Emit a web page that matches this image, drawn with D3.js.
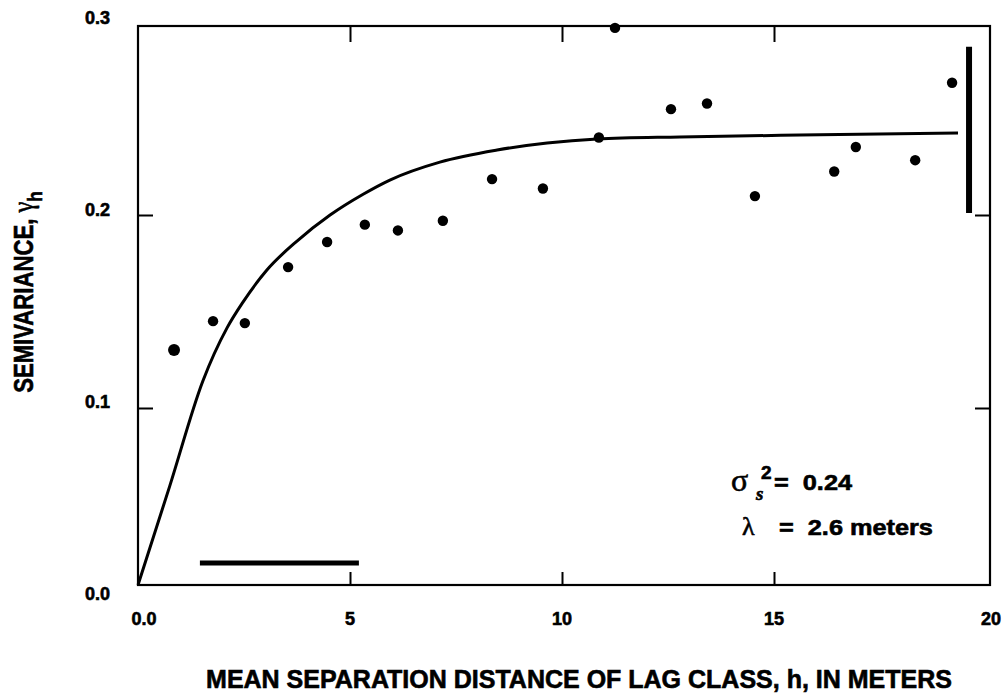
<!DOCTYPE html>
<html>
<head>
<meta charset="utf-8">
<script src="https://cdn.jsdelivr.net/npm/d3@7"></script>
<style>
  body { margin: 0; background: #fff; }
  text { font-family: "Liberation Sans", Arial, sans-serif; font-weight: bold; fill: #000;
         stroke: #000; stroke-width: 0.6px; white-space: pre; }
</style>
</head>
<body>
<div id="plot"></div>
<script>
var width  = 1004;
var height = 696;

// lag classes (meters) and experimental semivariance
var lagDistance  = [0.85, 1.77, 2.52, 3.54, 4.46, 5.35, 6.13, 7.19, 8.35, 9.55,
                    10.87, 11.25, 12.57, 13.42, 14.55, 16.42, 16.93, 18.33, 19.20];
var semivariance = [0.130, 0.145, 0.144, 0.173, 0.186, 0.195, 0.192, 0.197, 0.219, 0.214,
                    0.241, 0.299, 0.256, 0.259, 0.210, 0.223, 0.236, 0.229, 0.270];

// fitted model curve
var modelDistance     = [0, 0.75, 1.53, 2.10, 2.48, 3.04, 3.75, 4.53, 5.31, 5.94,
                         7.12, 8.47, 9.65, 10.83, 12.78, 15.61, 19.34];
var modelSemivariance = [0, 0.056, 0.114, 0.1415, 0.155, 0.1715, 0.1865, 0.200, 0.211, 0.2185,
                         0.228, 0.2344, 0.2381, 0.2402, 0.2413, 0.2423, 0.2434];

// range bar (horizontal) and sill bar (vertical)
var rangeBarH = [1.46, 5.21];
var rangeBarY = 0.0124;
var sillBarH  = 19.60;
var sillBarY  = [0.201, 0.289];

var xTickValues = [0, 5, 10, 15, 20];
var xTickLabels = ["0.0", "5", "10", "15", "20"];
var yTickValues = [0, 0.1, 0.2, 0.3];
var yTickLabels = ["0.0", "0.1", "0.2", "0.3"];

var frameLeft = 138, frameRight = 990, frameTop = 26, frameBottom = 585;

var x = d3.scaleLinear().domain([0, 20]).range([frameLeft, 986]);
// the printed axis is not evenly spaced, so the scale is piecewise
var y = d3.scaleLinear().domain([0, 0.1, 0.2, 0.3]).range([frameBottom, 408, 215, frameTop]);
// tick labels sit on an even spacing of their own
var yLabel = d3.scaleLinear().domain([0, 0.3]).range([600, 24]);

var svg = d3.select("#plot")
    .append("svg")
    .attr("width", width)
    .attr("height", height);

// inward ticks on all four sides
function ticks(axis, size, tx, ty, vals) {
    var g = svg.append("g")
        .attr("transform", "translate(" + tx + "," + ty + ")")
        .call(axis.tickValues(vals).tickSize(size).tickFormat(""));
    g.select(".domain").remove();
    g.selectAll("line").attr("stroke", "#000").attr("stroke-width", 2);
}
ticks(d3.axisBottom(x), -13, 0, frameBottom, [5, 10, 15]);
ticks(d3.axisTop(x), -16, 0, frameTop, [5, 10, 15]);
ticks(d3.axisLeft(y), -15, frameLeft, 0, [0.1, 0.2]);
ticks(d3.axisRight(y), -15, frameRight, 0, [0.1, 0.2]);

svg.append("rect")
    .attr("x", frameLeft)
    .attr("y", frameTop)
    .attr("width", frameRight - frameLeft)
    .attr("height", frameBottom - frameTop)
    .attr("fill", "none")
    .attr("stroke", "#000")
    .attr("stroke-width", 2.2);

// tick labels
svg.selectAll(".xlab")
   .data(xTickValues)
   .enter()
   .append("text")
   .attr("class", "xlab")
   .attr("x", function(d, i) { return x(d) + (i == 0 ? 6 : (i == 4 ? 5 : 0)); })
   .attr("y", 625)
   .attr("text-anchor", "middle")
   .attr("font-size", "18px")
   .text(function(d, i) { return xTickLabels[i]; });

svg.selectAll(".ylab")
   .data(yTickValues)
   .enter()
   .append("text")
   .attr("class", "ylab")
   .attr("x", 110)
   .attr("y", function(d) { return yLabel(d); })
   .attr("text-anchor", "end")
   .attr("font-size", "18px")
   .text(function(d, i) { return yTickLabels[i]; });

// model curve
var line = d3.line()
    .x(function(d) { return x(d[0]); })
    .y(function(d) { return y(d[1]); })
    .curve(d3.curveMonotoneX);

svg.append("path")
   .datum(d3.zip(modelDistance, modelSemivariance))
   .attr("d", line)
   .attr("fill", "none")
   .attr("stroke", "#000")
   .attr("stroke-width", 3);

// observed points
svg.selectAll("circle")
   .data(d3.zip(lagDistance, semivariance))
   .enter()
   .append("circle")
   .attr("cx", function(d) { return x(d[0]); })
   .attr("cy", function(d) { return y(d[1]); })
   .attr("r", function(d, i) { return i == 0 ? 6 : 5.2; })
   .attr("fill", "#000");

// bars
svg.append("line")
   .attr("x1", x(rangeBarH[0])).attr("x2", x(rangeBarH[1]))
   .attr("y1", y(rangeBarY)).attr("y2", y(rangeBarY))
   .attr("stroke", "#000").attr("stroke-width", 5);

svg.append("line")
   .attr("x1", x(sillBarH)).attr("x2", x(sillBarH))
   .attr("y1", y(sillBarY[0])).attr("y2", y(sillBarY[1]))
   .attr("stroke", "#000").attr("stroke-width", 6);

// annotation
var note = svg.append("g");
note.append("text")
    .attr("x", 731).attr("y", 491)
    .style("font-family", "'Liberation Serif', serif")
    .style("font-weight", "normal")
    .attr("font-size", "32px")
    .text("σ");
note.append("text")
    .attr("x", 761).attr("y", 479)
    .attr("font-size", "19px")
    .text("2");
note.append("text")
    .attr("x", 756).attr("y", 500)
    .style("font-family", "'Liberation Serif', serif")
    .style("font-style", "italic")
    .attr("font-size", "19px")
    .text("s");
note.append("text")
    .attr("transform", "translate(774,490) scale(1.15,1)")
    .attr("font-size", "22px")
    .text("=  0.24");
note.append("text")
    .attr("x", 742).attr("y", 535)
    .style("font-family", "'Liberation Serif', serif")
    .style("font-weight", "normal")
    .attr("font-size", "26px")
    .text("λ");
note.append("text")
    .attr("transform", "translate(779,535) scale(1.15,1)")
    .attr("font-size", "22px")
    .text("=  2.6 meters");

// axis titles
svg.append("text")
   .attr("x", 579)
   .attr("y", 688)
   .attr("text-anchor", "middle")
   .attr("font-size", "25px")
   .text("MEAN SEPARATION DISTANCE OF LAG CLASS, h, IN METERS");

var yt = svg.append("text")
   .attr("transform", "translate(33,292) rotate(-90) scale(0.82,1)")
   .attr("text-anchor", "middle")
   .attr("font-size", "27px");
yt.append("tspan").text("SEMIVARIANCE, ");
yt.append("tspan")
  .style("font-family", "'Liberation Serif', serif")
  .style("font-weight", "normal")
  .attr("font-size", "30px")
  .text("γ");
yt.append("tspan")
  .attr("dy", 9)
  .attr("font-size", "21px")
  .text("h");
</script>
</body>
</html>
